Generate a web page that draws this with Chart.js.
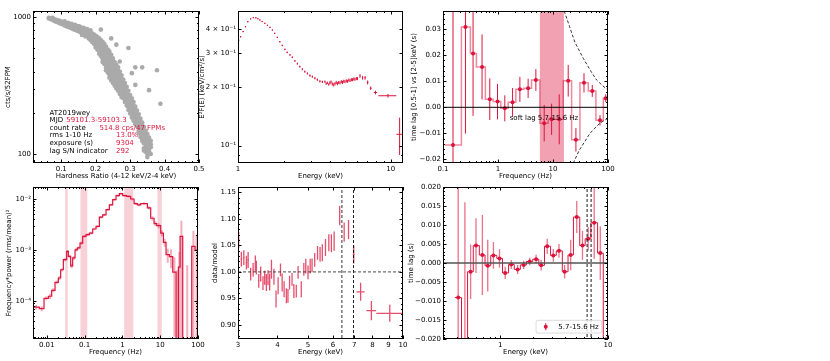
<!DOCTYPE html>
<html>
<head>
<meta charset="utf-8">
<script src="https://cdn.jsdelivr.net/npm/chart.js@4"></script>
<style>
body { margin: 0; background: #fff; width: 830px; height: 361px; overflow: hidden; position: relative; }
canvas { position: absolute; }
</style>
</head>
<body>
<canvas id="hid"></canvas>
<canvas id="spec"></canvas>
<canvas id="lagf"></canvas>
<canvas id="pds"></canvas>
<canvas id="ratio"></canvas>
<canvas id="lage"></canvas>
<script>
// ---- data ----

// hardness-intensity cloud: [hardness ratio, [count rates...]]
const hidCloud = [
  [0.064, [992, 978]], [0.07, [985, 968]], [0.075, [975, 958, 990]], [0.08, [965, 948, 938]],
  [0.085, [958, 944, 928]], [0.09, [950, 934, 918]], [0.095, [940, 924, 905]], [0.10, [930, 912, 895]],
  [0.105, [921, 900, 884]], [0.11, [910, 889, 870, 932]], [0.115, [900, 879, 860]], [0.12, [894, 870, 850, 912]],
  [0.125, [880, 860, 842]], [0.13, [871, 849, 830, 896]], [0.135, [860, 840, 818]], [0.14, [851, 829, 809, 880]],
  [0.145, [843, 819, 800]], [0.15, [835, 810, 789, 862]], [0.155, [824, 800, 779, 851]], [0.16, [815, 790, 768, 742]],
  [0.165, [806, 779, 758, 838]], [0.17, [795, 770, 746, 724]], [0.175, [789, 760, 734, 818]], [0.18, [779, 749, 720, 700]],
  [0.185, [770, 735, 706, 680, 801]], [0.19, [759, 721, 689, 660]], [0.195, [746, 704, 671, 641]],
  [0.20, [731, 690, 651, 621, 600]], [0.205, [716, 671, 630, 601, 579]], [0.21, [700, 650, 611, 575, 541]],
  [0.215, [681, 631, 590, 556, 521, 812]], [0.22, [660, 611, 570, 531, 500, 471]], [0.225, [640, 589, 546, 511, 480, 455]],
  [0.23, [611, 560, 521, 490, 460, 431, 410]], [0.235, [580, 541, 500, 470, 441, 416, 395]],
  [0.24, [560, 511, 476, 450, 421, 400, 380, 361]], [0.245, [531, 490, 455, 431, 405, 385, 365, 345, 700]],
  [0.25, [500, 466, 440, 415, 390, 371, 350, 331]], [0.255, [471, 445, 420, 396, 375, 355, 335, 316]],
  [0.26, [450, 425, 401, 380, 360, 341, 320, 301, 630]], [0.265, [430, 405, 381, 361, 340, 321, 305, 290]],
  [0.27, [401, 380, 360, 341, 325, 306, 290, 275, 475]], [0.275, [376, 355, 336, 320, 305, 290, 275, 261]],
  [0.28, [350, 331, 315, 300, 285, 270, 256]], [0.285, [330, 311, 295, 281, 265, 251, 240]],
  [0.29, [310, 291, 275, 262, 250, 238, 226]], [0.295, [290, 272, 258, 245, 233, 222, 210, 595]],
  [0.30, [270, 255, 242, 230, 218, 208, 198]], [0.305, [255, 240, 228, 215, 205, 195, 185, 390]],
  [0.31, [240, 225, 213, 202, 192, 183, 175]], [0.315, [222, 210, 200, 190, 180, 172, 165, 430, 320]],
  [0.32, [208, 196, 186, 177, 168, 160]], [0.325, [195, 183, 174, 165, 157, 150, 143]],
  [0.33, [182, 172, 163, 155, 148, 140, 133]], [0.335, [170, 160, 152, 145, 138, 131, 125, 430]],
  [0.34, [158, 150, 142, 135, 128, 120, 110, 106]], [0.345, [148, 140, 132, 125, 118, 112, 108, 104]],
  [0.35, [140, 130, 122, 115, 109, 100, 95]], [0.355, [132, 124, 116, 110, 105, 293]],
  [0.36, [125, 118, 112, 100]], [0.378, [410]], [0.388, [233]]
];
// this observation (red stars): [HR, rate]
const hidStars = [[0.1955, 722], [0.204, 690], [0.214, 628], [0.228, 561], [0.233, 570]];

// unfolded spectrum: [E keV, E^2F(E), dE, dF]
const specPts = [
  [1.01, 0.350, 0.010, 0.003], [1.04, 0.365, 0.010, 0.003], [1.08, 0.388, 0.010, 0.003], [1.12, 0.411, 0.010, 0.003],
  [1.16, 0.436, 0.011, 0.003], [1.21, 0.451, 0.011, 0.003], [1.26, 0.458, 0.012, 0.003], [1.31, 0.457, 0.012, 0.003],
  [1.35, 0.452, 0.012, 0.003], [1.39, 0.445, 0.013, 0.003], [1.44, 0.437, 0.013, 0.003], [1.50, 0.428, 0.014, 0.003],
  [1.56, 0.418, 0.014, 0.003], [1.62, 0.408, 0.015, 0.003], [1.68, 0.395, 0.015, 0.003], [1.74, 0.380, 0.016, 0.003],
  [1.81, 0.362, 0.016, 0.003], [1.88, 0.344, 0.017, 0.003], [1.95, 0.329, 0.018, 0.003], [2.03, 0.314, 0.018, 0.003],
  [2.10, 0.303, 0.019, 0.003], [2.19, 0.294, 0.020, 0.003], [2.27, 0.286, 0.020, 0.003], [2.36, 0.274, 0.021, 0.003],
  [2.45, 0.265, 0.022, 0.003], [2.54, 0.256, 0.023, 0.003], [2.64, 0.248, 0.024, 0.003], [2.74, 0.241, 0.025, 0.003],
  [2.85, 0.236, 0.026, 0.003], [2.96, 0.230, 0.027, 0.003], [3.07, 0.227, 0.028, 0.003], [3.19, 0.223, 0.029, 0.003],
  [3.31, 0.219, 0.030, 0.003], [3.44, 0.215, 0.031, 0.003], [3.57, 0.2135, 0.032, 0.003], [3.71, 0.214, 0.033, 0.003],
  [3.78, 0.209, 0.020, 0.003], [3.85, 0.211, 0.020, 0.003], [3.93, 0.207, 0.020, 0.003], [4.00, 0.211, 0.020, 0.004],
  [4.07, 0.213, 0.020, 0.004], [4.15, 0.208, 0.020, 0.004], [4.24, 0.206, 0.020, 0.004], [4.32, 0.209, 0.020, 0.004],
  [4.40, 0.212, 0.020, 0.004], [4.48, 0.209, 0.020, 0.004], [4.57, 0.212, 0.020, 0.004], [4.66, 0.211, 0.020, 0.004],
  [4.75, 0.214, 0.020, 0.004], [4.84, 0.212, 0.020, 0.004], [4.93, 0.215, 0.020, 0.004], [5.02, 0.214, 0.020, 0.004],
  [5.12, 0.216, 0.020, 0.004], [5.22, 0.215, 0.020, 0.004], [5.32, 0.218, 0.020, 0.004], [5.42, 0.217, 0.020, 0.004],
  [5.53, 0.219, 0.020, 0.004], [5.63, 0.219, 0.020, 0.004], [5.74, 0.221, 0.020, 0.004], [5.84, 0.220, 0.020, 0.004],
  [5.96, 0.222, 0.025, 0.004], [6.07, 0.222, 0.025, 0.004], [6.30, 0.229, 0.040, 0.005], [6.55, 0.224, 0.050, 0.005],
  [6.80, 0.224, 0.060, 0.005], [7.07, 0.212, 0.080, 0.005], [7.40, 0.198, 0.100, 0.004], [7.96, 0.188, 0.200, 0.004],
  [9.60, 0.181, 1.300, 0.004], [11.45, 0.1145, 0.550, 0.025]
];

// lag vs frequency: [f Hz, lag s, err]
const lagFreq = [
  [0.152, -0.0145, 0.055], [0.256, 0.0309, 0.041], [0.352, 0.0207, 0.024], [0.513, 0.0155, 0.0125],
  [0.709, 0.0031, 0.008], [0.98, 0.0022, 0.0068], [1.33, -0.0004, 0.005], [1.84, 0.0019, 0.0055],
  [2.5, 0.0069, 0.0048], [3.53, 0.0073, 0.0037], [4.88, 0.0105, 0.0042], [6.92, -0.0061, 0.007],
  [9.44, -0.0046, 0.006], [12.98, -0.0046, 0.0096], [18.9, 0.0102, 0.0061], [26.1, -0.0125, 0.0045],
  [36.6, 0.0094, 0.0037], [51.8, 0.0063, 0.0023], [71.5, -0.0050, 0.002], [90.8, 0.0035, 0.0015]
];
const lagFreqEdges = [0.107, 0.216, 0.315, 0.405, 0.59, 0.815, 1.124, 1.53, 2.11, 2.95, 4.07,
  5.77, 8.19, 11.14, 15.36, 21.8, 30.9, 43.8, 60.3, 82.2, 100];
const lagBand = [5.77, 15.8];
// dashed limit curves: [f, lag]
const limitUpper = [[16, 0.037], [20, 0.031], [25, 0.025], [35.5, 0.0188], [50, 0.0135], [62, 0.0105], [80, 0.0083], [100, 0.0066]];
const limitLower = [[23.3, -0.0215], [30, -0.0165], [47, -0.010], [70, -0.0062], [100, -0.0042]];

// power spectrum step curve: [bin start f, f*P, err]
const pdsBins = [
  [0.00426, 7.6e-5, 0.8e-5], [0.00638, 7.1e-5, 0.8e-5], [0.00848, 1.13e-4, 1.0e-5], [0.01104, 1.24e-4, 1.5e-5],
  [0.01353, 1.62e-4, 1.5e-5], [0.01658, 2.33e-4, 2.0e-5], [0.0203, 2.83e-4, 2.5e-5], [0.0234, 4.1e-4, 3e-5],
  [0.02754, 6.46e-4, 5e-5], [0.03376, 9.4e-4, 6e-5], [0.03735, 7.5e-4, 6e-5], [0.04305, 4.9e-4, 5e-5],
  [0.0486, 7.0e-4, 6e-5], [0.0561, 1.01e-3, 8e-5], [0.0646, 1.1e-3, 8e-5], [0.076, 1.37e-3, 1e-4],
  [0.0894, 1.85e-3, 1.2e-4], [0.1096, 2.0e-3, 1.2e-4], [0.1342, 2.15e-3, 1.3e-4], [0.1644, 2.58e-3, 1.5e-4],
  [0.2014, 2.9e-3, 1.7e-4], [0.2467, 4.4e-3, 2.5e-4], [0.302, 4.9e-3, 2.8e-4], [0.37, 6.2e-3, 3.5e-4],
  [0.453, 7.7e-3, 4e-4], [0.555, 9.7e-3, 5e-4], [0.68, 1.16e-2, 6e-4], [0.834, 1.27e-2, 6e-4],
  [1.021, 1.16e-2, 6e-4], [1.30, 1.13e-2, 6e-4], [1.66, 1.0e-2, 6e-4], [2.04, 8.1e-3, 5e-4],
  [2.49, 7.7e-3, 5e-4], [3.06, 8.1e-3, 5e-4], [4.59, 6.7e-3, 5e-4], [5.62, 4.2e-3, 4e-4],
  [6.89, 3.3e-3, 3.5e-4], [8.11, 3.0e-3, 3.5e-4], [10.33, 2.15e-3, 3e-4], [12.16, 1.41e-3, 2.5e-4],
  [14.29, 8.1e-4, 2.5e-4], [17.5, 7.4e-4, 3e-4], [21.5, 3.7e-4, 3.5e-4], [26.3, 1e-6, 4e-4],
  [30.3, 4.6e-4, 4.5e-4], [33.6, 1.85e-3, 1.9e-3], [39.5, 1e-6, 5e-4], [68.3, 1.18e-3, 1.2e-3],
  [83.6, 1.0e-3, 1.0e-3]
];
const pdsLastEdge = 100;
const pdsBands = [[0.031, 0.036], [0.078, 0.118], [1.12, 1.95], [8.5, 11]];

// data/model ratio: [E, ratio, dE, dR]
const ratioPts = [
  [3.015, 1.060, 0.02, 0.015], [3.074, 1.024, 0.02, 0.014], [3.13, 1.027, 0.02, 0.014], [3.19, 1.0175, 0.02, 0.013],
  [3.23, 1.0225, 0.02, 0.015], [3.29, 0.996, 0.02, 0.012], [3.35, 1.004, 0.02, 0.013], [3.405, 1.016, 0.02, 0.015],
  [3.43, 1.008, 0.02, 0.013], [3.49, 0.983, 0.02, 0.013], [3.54, 0.996, 0.02, 0.014], [3.60, 0.979, 0.02, 0.013],
  [3.645, 0.989, 0.02, 0.013], [3.69, 0.980, 0.02, 0.016], [3.735, 0.989, 0.02, 0.014], [3.78, 0.981, 0.02, 0.016],
  [3.83, 1.005, 0.02, 0.018], [3.90, 0.991, 0.02, 0.015], [3.96, 0.949, 0.02, 0.016], [4.02, 0.974, 0.02, 0.016],
  [4.09, 1.004, 0.02, 0.012], [4.14, 0.980, 0.02, 0.017], [4.20, 0.9675, 0.02, 0.015], [4.27, 0.955, 0.02, 0.014],
  [4.32, 0.955, 0.02, 0.013], [4.37, 0.980, 0.02, 0.013], [4.45, 0.986, 0.02, 0.012], [4.51, 0.964, 0.02, 0.013],
  [4.59, 0.964, 0.02, 0.012], [4.65, 0.999, 0.02, 0.012], [4.76, 0.9675, 0.02, 0.015], [4.85, 1.005, 0.02, 0.012],
  [4.92, 1.011, 0.02, 0.014], [5.0, 0.999, 0.02, 0.013], [5.08, 1.011, 0.02, 0.014], [5.15, 1.0125, 0.02, 0.013],
  [5.25, 1.0225, 0.02, 0.013], [5.36, 1.036, 0.02, 0.013], [5.46, 1.033, 0.02, 0.014], [5.55, 1.036, 0.02, 0.016],
  [5.68, 1.046, 0.02, 0.016], [5.82, 1.055, 0.02, 0.016], [5.93, 1.054, 0.02, 0.017], [6.05, 1.058, 0.02, 0.018],
  [6.30, 1.106, 0.03, 0.018], [6.51, 1.075, 0.03, 0.018], [6.72, 1.080, 0.03, 0.018], [6.98, 1.033, 0.05, 0.017],
  [7.34, 0.9625, 0.22, 0.017], [7.94, 0.927, 0.28, 0.018], [9.08, 0.922, 0.85, 0.016]
];
const lineEnergies = [6.4, 6.97];

// lag vs energy (5.7-15.6 Hz): [E, lag, err]
const lagEnergy = [
  [0.408, -0.0091, 0.030], [0.471, -0.024, 0.040], [0.532, -0.0023, 0.0072], [0.597, 0.0046, 0.0072],
  [0.684, 0.0021, 0.0105], [0.767, -0.0007, 0.0068], [0.866, 0.0020, 0.0035], [0.986, 0.0012, 0.0024],
  [1.113, -0.0026, 0.0016], [1.267, -0.0004, 0.0012], [1.452, -0.0017, 0.0012], [1.652, -0.0005, 0.0011],
  [1.88, 0.0004, 0.0010], [2.154, 0.0010, 0.0012], [2.40, -0.0006, 0.0014], [2.73, 0.0044, 0.0020],
  [3.11, 0.0020, 0.0017], [3.51, 0.0032, 0.0018], [3.96, -0.0023, 0.0018], [4.51, 0.0021, 0.0040],
  [5.13, 0.0121, 0.0042], [5.80, 0.0046, 0.0038], [6.55, 0.0064, 0.0031], [7.45, 0.0106, 0.0095],
  [8.48, 0.0026, 0.0070], [9.58, -0.030, 0.0105]
];
const lagEnergyEdges = [0.380, 0.438, 0.4985, 0.563, 0.641, 0.724, 0.818, 0.931, 1.051, 1.196, 1.351, 1.538,
  1.75, 2.005, 2.282, 2.577, 2.933, 3.314, 3.77, 4.26, 4.78, 5.47, 6.14, 6.94, 8.01, 9.04, 10.0];

// ---- drawing ----
Chart.defaults.font.family = "'DejaVu Sans', sans-serif";
Chart.defaults.font.size = 7;
Chart.defaults.color = '#000';

const RED = 'rgb(220,20,60)';
const SUP = {'-': '⁻', '0': '⁰', '1': '¹', '2': '²', '3': '³', '4': '⁴', '5': '⁵', '6': '⁶', '7': '⁷', '8': '⁸', '9': '⁹'};
const sup = n => String(n).split('').map(c => SUP[c]).join('');

function fmt(v, dec) {
  const s = Math.abs(v).toFixed(dec);
  return v < -1e-12 ? '−' + s : s;
}

function linTicks(lo, hi, minor, every, dec) {
  const out = [];
  for (let k = Math.ceil(lo / minor - 1e-9); k * minor <= hi + 1e-9; k++) {
    const v = k * minor, maj = k % every === 0;
    out.push({value: v, maj, lbl: maj ? fmt(v, dec) : ''});
  }
  return out;
}

function logTicks(lo, hi, lab) {
  const out = [];
  for (let d = Math.floor(Math.log10(lo)); d <= Math.ceil(Math.log10(hi)); d++) {
    for (let m = 1; m <= 9; m++) {
      const v = m * Math.pow(10, d);
      if (v < lo * 0.9999 || v > hi * 1.0001) continue;
      out.push({value: v, maj: m === 1, lbl: lab(m, d) || ''});
    }
  }
  return out;
}

const decade = (m, d) => m === 1 ? String(+Math.pow(10, d).toFixed(Math.max(0, -d))) : '';

function axis(type, min, max, ticks, title) {
  return {
    type, min, max, bounds: 'data',
    grid: {display: false, drawTicks: false},
    border: {display: false},
    ticks: {autoSkip: false, maxRotation: 0, minRotation: 0, padding: 2, callback: (v, i, t) => t[i].lbl},
    afterBuildTicks: s => { s.ticks = ticks.map(t => Object.assign({}, t)); },
    title: {display: true, text: title, padding: {top: 0, bottom: 1}}
  };
}

// black box with inward ticks on all sides
const framePlugin = {
  id: 'frame',
  afterDraw(chart) {
    const {ctx, chartArea: a, scales: {x, y}} = chart;
    ctx.save();
    ctx.strokeStyle = '#000';
    ctx.lineWidth = 1;
    ctx.strokeRect(Math.round(a.left) + 0.5, Math.round(a.top) + 0.5, Math.round(a.width) - 1, Math.round(a.height) - 1);
    ctx.beginPath();
    x.ticks.forEach(t => {
      const p = Math.round(x.getPixelForValue(t.value)) + 0.5, len = (t.maj || t.lbl) ? 3.5 : 2;
      ctx.moveTo(p, a.bottom); ctx.lineTo(p, a.bottom - len);
      ctx.moveTo(p, a.top); ctx.lineTo(p, a.top + len);
    });
    y.ticks.forEach(t => {
      const p = Math.round(y.getPixelForValue(t.value)) + 0.5, len = (t.maj || t.lbl) ? 3.5 : 2;
      ctx.moveTo(a.left, p); ctx.lineTo(a.left + len, p);
      ctx.moveTo(a.right, p); ctx.lineTo(a.right - len, p);
    });
    ctx.stroke();
    ctx.restore();
  }
};

// error bars from dataset.ex / dataset.ey
const errPlugin = {
  id: 'errbars',
  afterDatasetDraw(chart, args) {
    const ds = chart.data.datasets[args.index];
    if (!ds.ey && !ds.ex) return;
    const {ctx, chartArea: a, scales: {x, y}} = chart;
    const pos = (s, v) => s.getPixelForValue(s.type === 'logarithmic' ? Math.max(v, 1e-9) : v);
    ctx.save();
    ctx.beginPath();
    ctx.rect(a.left, a.top, a.width, a.height);
    ctx.clip();
    ctx.strokeStyle = ds.errColor;
    ctx.lineWidth = ds.errWidth;
    ctx.beginPath();
    ds.data.forEach((p, i) => {
      const cx = pos(x, p.x), cy = pos(y, p.y);
      if (ds.ey && ds.ey[i]) { ctx.moveTo(cx, pos(y, p.y - ds.ey[i])); ctx.lineTo(cx, pos(y, p.y + ds.ey[i])); }
      if (ds.ex && ds.ex[i]) { ctx.moveTo(pos(x, p.x - ds.ex[i]), cy); ctx.lineTo(pos(x, p.x + ds.ex[i]), cy); }
    });
    ctx.stroke();
    ctx.restore();
  }
};

function bandPlugin(bands, color) {
  return {
    id: 'bands',
    beforeDatasetsDraw(chart) {
      const {ctx, chartArea: a, scales: {x}} = chart;
      ctx.save();
      ctx.fillStyle = color;
      bands.forEach(([b0, b1]) => {
        const p0 = x.getPixelForValue(b0), p1 = x.getPixelForValue(b1);
        ctx.fillRect(p0, a.top, p1 - p0, a.height);
      });
      ctx.restore();
    }
  };
}

// [fraction x, fraction y from top, text, colour, align]
function textPlugin(items) {
  return {
    id: 'txt',
    afterDatasetsDraw(chart) {
      const {ctx, chartArea: a} = chart;
      ctx.save();
      ctx.font = "7px 'DejaVu Sans'";
      ctx.textBaseline = 'middle';
      items.forEach(([fx, fy, t, c, al]) => {
        ctx.fillStyle = c;
        ctx.textAlign = al || 'left';
        ctx.fillText(t, a.left + fx * a.width, a.top + fy * a.height);
      });
      ctx.restore();
    }
  };
}

const lagLegend = {
  id: 'lg',
  afterDatasetsDraw(chart) {
    const {ctx, chartArea: a} = chart;
    const x0 = a.left + 0.564 * a.width, x1 = a.left + 0.962 * a.width;
    const y0 = a.top + 0.877 * a.height, y1 = a.top + 0.961 * a.height, ym = (y0 + y1) / 2;
    ctx.save();
    ctx.beginPath();
    ctx.roundRect(x0, y0, x1 - x0, y1 - y0, 2);
    ctx.fillStyle = 'rgba(255,255,255,0.8)';
    ctx.fill();
    ctx.strokeStyle = '#d0d0d0';
    ctx.lineWidth = 0.8;
    ctx.stroke();
    ctx.strokeStyle = RED;
    ctx.lineWidth = 1;
    ctx.beginPath();
    ctx.moveTo(x0 + 9.7, ym - 3.5); ctx.lineTo(x0 + 9.7, ym + 3.5);
    ctx.stroke();
    ctx.fillStyle = RED;
    ctx.beginPath();
    ctx.arc(x0 + 9.7, ym, 2, 0, Math.PI * 2);
    ctx.fill();
    ctx.fillStyle = '#000';
    ctx.font = "7px 'DejaVu Sans'";
    ctx.textBaseline = 'middle';
    ctx.fillText('5.7-15.6 Hz', x0 + 22.3, ym);
    ctx.restore();
  }
};

function starImg(r, color) {
  const c = document.createElement('canvas');
  c.width = c.height = 2 * r + 2;
  const g = c.getContext('2d');
  g.fillStyle = color;
  g.beginPath();
  for (let i = 0; i < 10; i++) {
    const ang = -Math.PI / 2 + i * Math.PI / 5, rr = i % 2 ? r * 0.42 : r;
    g.lineTo(r + 1 + rr * Math.cos(ang), r + 1 + rr * Math.sin(ang));
  }
  g.closePath();
  g.fill();
  return c;
}

// rect = plot area [left, top, right, bottom] on the page; m = room left of it; tp = y title offset
function panel(id, rect, m, tp, xAx, yAx, datasets, extra) {
  const [L, T, R, B] = rect;
  const cv = document.getElementById(id);
  cv.width = m + (R - L) + 10;
  cv.height = 8 + (B - T) + 18;
  cv.style.left = (L - m) + 'px';
  cv.style.top = (T - 8) + 'px';
  xAx.afterFit = s => { s.height = 18; };
  xAx.ticks.padding = 1.5;
  yAx.afterFit = s => { s.width = m; };
  yAx.title.padding = {top: tp, bottom: 0};
  return new Chart(cv, {
    type: 'scatter',
    data: {datasets},
    options: {
      responsive: false, animation: false, devicePixelRatio: 1,
      layout: {padding: {left: 0, top: 8, right: 10, bottom: 0}},
      plugins: {legend: {display: false}, tooltip: {enabled: false}},
      scales: {x: xAx, y: yAx}
    },
    plugins: [errPlugin, framePlugin].concat(extra || [])
  });
}

const line = (data, color, width, dash) => ({
  data, showLine: true, pointRadius: 0, borderColor: color, borderWidth: width, borderDash: dash || [], fill: false
});
// value i holds from edge i to edge i+1
const stepLine = (edges, vals, color, width) => Object.assign(line(
  edges.map((e, i) => ({x: e, y: vals[Math.min(i, vals.length - 1)]})), color, width
), {stepped: 'before'});

// 1. hardness-intensity diagram
panel('hid', [33, 11, 199, 163], 33, 3.8,
  axis('linear', 0.018, 0.5, linTicks(0.018, 0.5, 0.02, 5, 1), 'Hardness Ratio (4-12 keV/2-4 keV)'),
  axis('logarithmic', 86, 1110, logTicks(86, 1110, decade), 'cts/s/52FPM'),
  [
    {data: hidCloud.flatMap(([hr, rates]) => rates.map(r => ({x: hr, y: r}))),
      backgroundColor: 'rgb(170,170,170)', borderWidth: 0, pointRadius: 2.3},
    {data: hidStars.map(([hr, r]) => ({x: hr, y: r})), pointStyle: starImg(4, RED), pointRadius: 4}
  ],
  [textPlugin([
    [0.1, 0.67, 'AT2019wey', '#000'],
    [0.1, 0.72, 'MJD', '#000'], [0.2, 0.72, '59101.3-59103.3', RED],
    [0.1, 0.77, 'count rate', '#000'], [0.4, 0.77, '514.8 cps/47 FPMs', RED],
    [0.1, 0.82, 'rms 1-10 Hz', '#000'], [0.5, 0.82, '13.0%', RED],
    [0.1, 0.87, 'exposure (s)', '#000'], [0.5, 0.87, '9304', RED],
    [0.1, 0.92, 'lag S/N indicator', '#000'], [0.5, 0.92, '292', RED]
  ])]
);

// 2. spectrum
panel('spec', [238, 11, 403, 163], 41, 0.8,
  axis('logarithmic', 1, 12.05, logTicks(1, 12.05, decade), 'Energy (keV)'),
  axis('logarithmic', 0.0814, 0.4955,
    logTicks(0.0814, 0.4955, (m, d) => d === -1 && m <= 4 ? (m === 1 ? '10' + sup(-1) : m + ' × 10' + sup(-1)) : ''),
    'E²F(E) (keV/cm²/s)'),
  [{data: specPts.map(p => ({x: p[0], y: p[1]})), pointRadius: 0,
    ex: specPts.map(p => p[2]), ey: specPts.map(p => p[3]), errColor: RED, errWidth: 1}]
);

// 3. lag vs frequency
panel('lagf', [443, 11, 608, 163], 34, 1.1,
  axis('logarithmic', 0.1, 100, logTicks(0.1, 100, decade), 'Frequency (Hz)'),
  axis('linear', -0.0214, 0.037, linTicks(-0.0214, 0.037, 0.002, 5, 2), 'time lag [0.5-1] vs [2-5]keV (s)'),
  [
    line([{x: 0.1, y: 0}, {x: 100, y: 0}], '#000', 1),
    line(limitUpper.map(([f, v]) => ({x: f, y: v})), '#000', 0.8, [3, 2]),
    line(limitLower.map(([f, v]) => ({x: f, y: v})), '#000', 0.8, [3, 2]),
    stepLine(lagFreqEdges, lagFreq.map(p => p[1]), 'rgba(220,20,60,0.5)', 1.5),
    {data: lagFreq.map(p => ({x: p[0], y: p[1]})), pointRadius: 2, backgroundColor: RED, borderWidth: 0,
      ey: lagFreq.map(p => p[2]), errColor: RED, errWidth: 1}
  ],
  [bandPlugin([lagBand], 'rgba(220,20,60,0.4)'), textPlugin([[0.612, 0.702, 'soft lag 5.7-15.6 Hz', '#000', 'center']])]
);

// 4. power spectrum
const pdsEdges = pdsBins.map(b => b[0]).concat([pdsLastEdge]);
panel('pds', [33, 187, 198, 339], 33, 5.1,
  axis('logarithmic', 0.00434, 100, logTicks(0.00434, 100, decade), 'Frequency (Hz)'),
  axis('logarithmic', 1.8e-5, 0.0172, logTicks(1.8e-5, 0.0172, (m, d) => m === 1 ? '10' + sup(d) : ''),
    'Frequency*power (rms/mean)²'),
  [
    {data: pdsBins.map((b, i) => ({x: Math.sqrt(b[0] * pdsEdges[i + 1]), y: b[1]})), pointRadius: 0,
      ey: pdsBins.map(b => b[2]), errColor: 'rgba(220,20,60,0.35)', errWidth: 2},
    stepLine(pdsEdges, pdsBins.map(b => b[1]), RED, 1.2)
  ],
  [bandPlugin(pdsBands, 'rgba(220,20,60,0.2)')]
);

// 5. data/model ratio
panel('ratio', [238, 187, 403, 339], 28, 0.8,
  axis('logarithmic', 3, 10, logTicks(3, 10, (m, d) => String(m * Math.pow(10, d))), 'Energy (keV)'),
  axis('linear', 0.8736, 1.16, linTicks(0.8736, 1.16, 0.01, 5, 2), 'data/model'),
  [
    line([{x: 3, y: 1}, {x: 10, y: 1}], '#333', 0.9, [3, 2]),
    line([{x: lineEnergies[0], y: 0.8}, {x: lineEnergies[0], y: 1.2}], '#808080', 1.6, [3, 2]),
    line([{x: lineEnergies[1], y: 0.8}, {x: lineEnergies[1], y: 1.2}], '#000', 0.9, [3, 2]),
    {data: ratioPts.map(p => ({x: p[0], y: p[1]})), pointRadius: 0,
      ex: ratioPts.map(p => p[2]), ey: ratioPts.map(p => p[3]), errColor: 'rgba(220,20,60,0.75)', errWidth: 1.3}
  ]
);

// 6. lag vs energy
panel('lage', [443, 187, 608, 339], 38, 1.5,
  axis('logarithmic', 0.295, 10, logTicks(0.295, 10, decade), 'Energy (keV)'),
  axis('linear', -0.02, 0.02, linTicks(-0.02, 0.02, 0.001, 5, 3), 'time lag (s)'),
  [
    line([{x: 0.295, y: 0}, {x: 10, y: 0}], '#555', 1.3),
    line([{x: lineEnergies[0], y: -0.03}, {x: lineEnergies[0], y: 0.03}], '#000', 0.9, [3, 2]),
    line([{x: lineEnergies[1], y: -0.03}, {x: lineEnergies[1], y: 0.03}], '#000', 0.9, [3, 2]),
    stepLine(lagEnergyEdges, lagEnergy.map(p => p[1]), RED, 1),
    {data: lagEnergy.map(p => ({x: p[0], y: p[1]})), pointRadius: 2, backgroundColor: RED, borderWidth: 0,
      ey: lagEnergy.map(p => p[2]), errColor: 'rgba(220,20,60,0.6)', errWidth: 1.3}
  ],
  [lagLegend]
);
</script>
</body>
</html>
